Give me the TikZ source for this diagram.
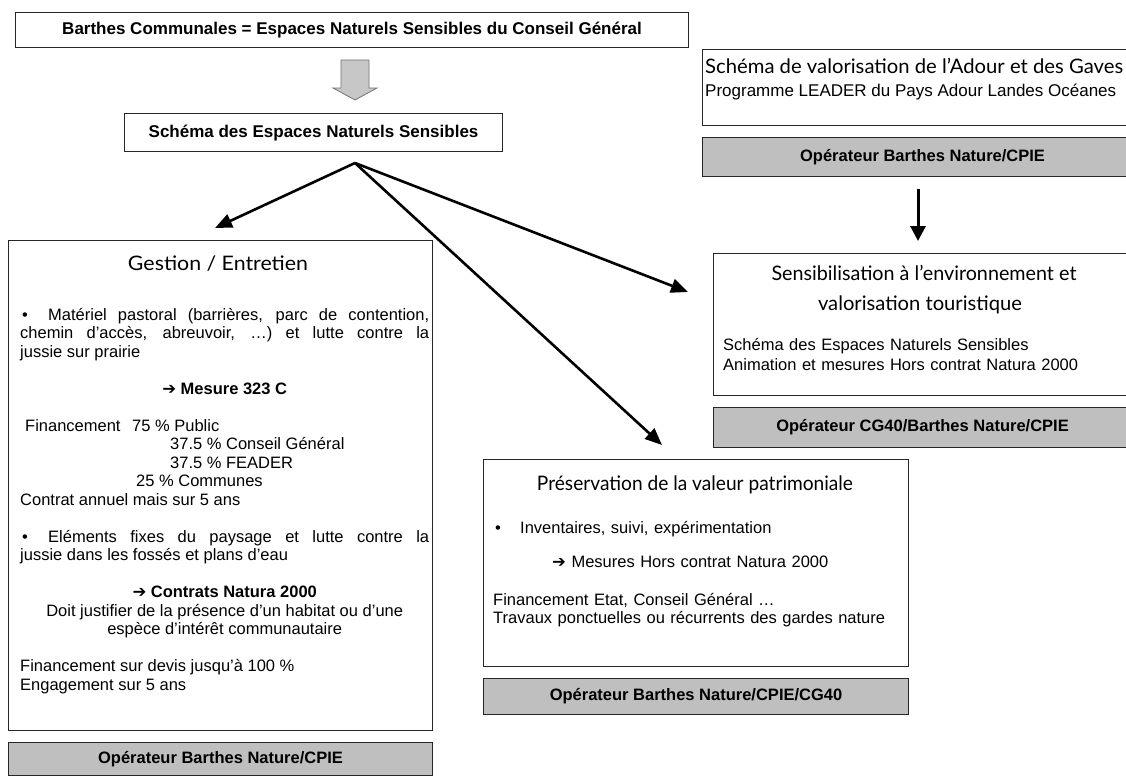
\documentclass[tikz,border=0pt]{standalone}
\usepackage{graphicx}
\usepackage{fontspec}
\setmainfont{Liberation Sans}
\newfontfamily\titlefont{Lato}
\newfontfamily\symfont{DejaVu Sans}
\usetikzlibrary{arrows.meta}
\newcommand\bodyfont{\fontsize{16.5}{18.5}\selectfont}
\newcommand\ttl[2]{\resizebox{#1}{\height}{\titlefont\fontsize{20}{24}\selectfont #2}}
\newcommand\arr{{\symfont ➔}}
\begin{document}
\begin{tikzpicture}[x=1pt,y=-1pt,
  box/.style={draw=black!85, line width=1.1pt, fill=white, inner sep=0pt},
  opbox/.style={box, fill=black!25, font=\bodyfont\bfseries},
  hdr/.style={box, font=\fontsize{17}{20}\selectfont\bfseries},
  conn/.style={line width=2.6pt, -{Triangle[length=17pt,width=14pt]}},
  body/.style={inner sep=0pt, font=\bodyfont},
]
\clip (0,0) rectangle (1126,776);
\fill[white] (0,0) rectangle (1126,776);

% top header
\node[hdr, anchor=north west, minimum width=673pt, minimum height=35pt] (top) at (15,12)
  {Barthes Communales = Espaces Naturels Sensibles du Conseil Général};
% block arrow
\draw[fill=black!22, draw=black!55, line width=0.8pt]
  (341,60) -- (369,60) -- (369,88) -- (377,88) -- (355,100) -- (333,88) -- (341,88) -- cycle;
\node[hdr, anchor=north west, minimum width=378pt, minimum height=38pt] (sch) at (124,113)
  {Schéma des Espaces Naturels Sensibles};

% Gestion / Entretien
\node[box, anchor=north west, minimum width=424pt, minimum height=490pt] (gest) at (8,240) {};
\node[body, anchor=base] (gestT) at (218,270) {\ttl{180pt}{Gestion / Entretien}};
\node[body, anchor=base west, text width=409pt, align=justify] (gtext) at (20,320) {%
\makebox[28pt][l]{\hspace*{2pt}\textbullet}Matériel pastoral (barrières, parc de contention,\linebreak
chemin d’accès, abreuvoir, …) et lutte contre la\linebreak jussie sur prairie\par
\vspace{18.5pt}
{\centering\bfseries\arr\ Mesure 323 C\par}
\vspace{18.5pt}
\makebox[112pt][l]{\hspace*{5pt}Financement}75 \% Public\par
\hspace*{150pt}37.5 \% Conseil Général\par
\hspace*{150pt}37.5 \% FEADER\par
\hspace*{116pt}25 \% Communes\par
Contrat annuel mais sur 5 ans\par
\vspace{18.5pt}
\makebox[28pt][l]{\hspace*{2pt}\textbullet}Eléments fixes du paysage et lutte contre la\linebreak
jussie dans les fossés et plans d’eau\par
\vspace{18.5pt}
{\centering{\bfseries\arr\ Contrats Natura 2000}\\
Doit justifier de la présence d’un habitat ou d’une\\
espèce d’intérêt communautaire\par}
\vspace{18.5pt}
Financement sur devis jusqu’à 100 \%\par
Engagement sur 5 ans\par};
\node[opbox, anchor=north west, minimum width=424pt, minimum height=33pt] (gestOp) at (8,742)
  {Opérateur Barthes Nature/CPIE};

% Schema de valorisation (top right)
\node[box, anchor=north west, minimum width=440pt, minimum height=76pt] (valo) at (702,49) {};
\node[body, anchor=base west] (valoT) at (705,73)
  {\ttl{418pt}{Schéma de valorisation de l’Adour et des Gaves}};
\node[body, anchor=base west, font=\fontsize{17}{20}\selectfont] (valoP) at (705,96)
  {Programme LEADER du Pays Adour Landes Océanes};
\node[opbox, anchor=north west, minimum width=440pt, minimum height=39pt] (valoOp) at (702,137)
  {Opérateur Barthes Nature/CPIE};
\coordinate (v1) at (918,189);
\coordinate (v2) at (918,241);
\draw[line width=3pt, -{Triangle[length=15pt,width=15pt]}] (v1) -- (v2);

% Sensibilisation
\node[box, anchor=north west, minimum width=418pt, minimum height=142pt] (sens) at (713,253) {};
\node[body, anchor=base] (sensT1) at (924,280) {\ttl{305pt}{Sensibilisation à l’environnement et}};
\node[body, anchor=base] (sensT2) at (920,310) {\ttl{204pt}{valorisation touristique}};
\node[body, anchor=base west, text width=400pt, align=left, font=\fontsize{16.5}{20}\selectfont] (sensB) at (723,350)
  {Schéma des Espaces Naturels Sensibles\\Animation et mesures Hors contrat Natura 2000};
\node[opbox, anchor=north west, minimum width=418pt, minimum height=40pt] (sensOp) at (713,407)
  {Opérateur CG40/Barthes Nature/CPIE};

% Preservation
\node[box, anchor=north west, minimum width=425pt, minimum height=207pt] (pres) at (483,459) {};
\node[body, anchor=base] (presT) at (695,490) {\ttl{316pt}{Préservation de la valeur patrimoniale}};
\node[body, anchor=base west, text width=405pt, align=left] (ptext) at (493,533) {%
\makebox[27pt][l]{\hspace*{2pt}\textbullet}Inventaires, suivi, expérimentation\par
\vspace{15.5pt}
\hspace*{59pt}\arr\ Mesures Hors contrat Natura 2000\par
\vspace{19.5pt}
Financement Etat, Conseil Général …\par
Travaux ponctuelles ou récurrents des gardes nature\par};
\node[opbox, anchor=north west, minimum width=425pt, minimum height=36pt] (presOp) at (483,678)
  {Opérateur Barthes Nature/CPIE/CG40};

% connectors from the Schema box
\coordinate (apex) at (355,163);
\coordinate (tipG) at (215,228);
\coordinate (tipP) at (662,445);
\coordinate (tipS) at (688,292);
\draw[conn] (apex) -- (tipG);
\draw[conn] (apex) -- (tipP);
\draw[conn] (apex) -- (tipS);
\end{tikzpicture}
\end{document}
